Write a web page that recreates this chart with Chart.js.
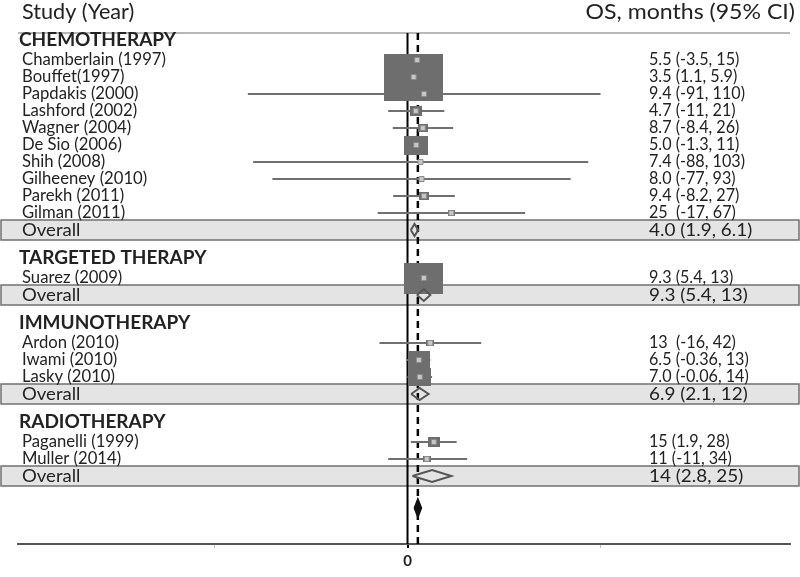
<!DOCTYPE html>
<html>
<head>
<meta charset="utf-8">
<title>Forest plot OS</title>
<script src="https://cdn.jsdelivr.net/npm/chart.js@4"></script>
<style>
  body { margin: 0; background: #fff; }
  canvas { display: block; }
</style>
</head>
<body>
<canvas id="forestChart" width="800" height="577"></canvas>
<script>
// dati
const groups = ['CHEMOTHERAPY', 'TARGETED THERAPY', 'IMMUNOTHERAPY', 'RADIOTHERAPY'];
const studies = ['Chamberlain (1997)', 'Bouffet(1997)', 'Papdakis (2000)', 'Lashford (2002)', 'Wagner (2004)',
  'De Sio (2006)', 'Shih (2008)', 'Gilheeney (2010)', 'Parekh (2011)', 'Gilman (2011)',
  'Suarez (2009)', 'Ardon (2010)', 'Iwami (2010)', 'Lasky (2010)', 'Paganelli (1999)', 'Muller (2014)'];
const studyGroup = [0, 0, 0, 0, 0, 0, 0, 0, 0, 0, 1, 2, 2, 2, 3, 3];
const estimates = [5.5, 3.5, 9.4, 4.7, 8.7, 5.0, 7.4, 8.0, 9.4, 25, 9.3, 13, 6.5, 7.0, 15, 11];
const lower = [-3.5, 1.1, -91, -11, -8.4, -1.3, -88, -77, -8.2, -17, 5.4, -16, -0.36, -0.06, 1.9, -11];
const upper = [15, 5.9, 110, 21, 26, 11, 103, 93, 27, 67, 13, 42, 13, 14, 28, 34];
const weights = [3, 47, 0.1, 2, 1.4, 7.8, 0.1, 0.1, 1.4, 0.7, 20.5, 0.9, 6.5, 7.2, 2, 0.9];
const studyLabels = ['5.5 (-3.5, 15)', '3.5 (1.1, 5.9)', '9.4 (-91, 110)', '4.7 (-11, 21)', '8.7 (-8.4, 26)',
  '5.0 (-1.3, 11)', '7.4 (-88, 103)', '8.0 (-77, 93)', '9.4 (-8.2, 27)', '25  (-17, 67)',
  '9.3 (5.4, 13)', '13  (-16, 42)', '6.5 (-0.36, 13)', '7.0 (-0.06, 14)', '15 (1.9, 28)', '11 (-11, 34)'];
const groupEst = [4.0, 9.3, 6.9, 14];
const groupLower = [1.9, 5.4, 2.1, 2.8];
const groupUpper = [6.1, 13, 12, 25];
const groupLabels = ['4.0 (1.9, 6.1)', '9.3 (5.4, 13)', '6.9 (2.1, 12)', '14 (2.8, 25)'];
const pooledEst = 5.9;
const pooledLower = 4.0;
const pooledUpper = 7.8;
const xTicks = [-110, 0, 110];

// layout delle righe (unita' verticali = pixel dall'alto dell'area)
const TOP = 6, HEAD_GAP = 21, ROW_GAP = 17, GROUP_GAP = 27, POOLED_GAP = 32;
const headerY = [], studyY = [], overallY = [];
let cursor = TOP;
groups.forEach((g, gi) => {
  headerY.push(cursor);
  cursor += HEAD_GAP;
  studyGroup.forEach((sg, i) => {
    if (sg === gi) { studyY[i] = cursor; cursor += ROW_GAP; }
  });
  overallY.push(cursor);
  cursor += GROUP_GAP;
});
const pooledY = overallY[overallY.length - 1] + POOLED_GAP;

const GAP = { x: null, y: null };
const DIAMOND_H = 6;
const BOX_K = 8.6;

function makeBox(w) {
  const c = document.createElement('canvas');
  c.width = Math.max(3, Math.round(BOX_K * Math.sqrt(w)));
  c.height = Math.max(3, Math.round(c.width * 0.8));
  const g = c.getContext('2d');
  g.fillStyle = '#6e6e6e';
  g.fillRect(0, 0, c.width, c.height);
  return c;
}

const ciPoints = [];
studies.forEach((s, i) => {
  ciPoints.push({ x: lower[i], y: studyY[i] }, { x: upper[i], y: studyY[i] }, GAP);
});

const diamondPoints = [];
groups.forEach((g, gi) => {
  const y = overallY[gi];
  diamondPoints.push(
    { x: groupLower[gi], y: y }, { x: groupEst[gi], y: y - DIAMOND_H },
    { x: groupUpper[gi], y: y }, { x: groupEst[gi], y: y + DIAMOND_H },
    { x: groupLower[gi], y: y }, GAP);
});

const pooledPoints = [
  { x: pooledLower, y: pooledY }, { x: pooledEst, y: pooledY - 8.5 },
  { x: pooledUpper, y: pooledY }, { x: pooledEst, y: pooledY + 8.5 },
  { x: pooledLower, y: pooledY }
];

const studyPoints = studies.map((s, i) => ({ x: estimates[i], y: studyY[i] }));

// testo schiacciato/allargato in orizzontale
function drawText(ctx, text, x, y, sx, align) {
  ctx.save();
  ctx.translate(x, y);
  ctx.scale(sx, 1);
  ctx.textAlign = align || 'left';
  ctx.fillText(text, 0, 0);
  ctx.restore();
}

const forestText = {
  id: 'forestText',
  beforeDatasetsDraw(chart) {
    const ctx = chart.ctx;
    const yScale = chart.scales.y;
    const area = chart.chartArea;
    ctx.save();
    // bande "Overall"
    overallY.forEach(v => {
      const y = Math.round(yScale.getPixelForValue(v));
      ctx.fillStyle = '#e4e4e4';
      ctx.fillRect(1, y - 10, 798, 20);
      ctx.strokeStyle = '#707070';
      ctx.lineWidth = 1.5;
      ctx.strokeRect(1, y - 10, 798, 20);
    });
    // linea intestazione
    ctx.strokeStyle = '#a0a0a0';
    ctx.lineWidth = 1.5;
    ctx.beginPath();
    ctx.moveTo(area.left, area.top);
    ctx.lineTo(area.right, area.top);
    ctx.stroke();
    ctx.restore();
  },
  afterDraw(chart) {
    const ctx = chart.ctx;
    const yScale = chart.scales.y;
    ctx.save();
    ctx.fillStyle = '#222';
    ctx.textBaseline = 'middle';
    ctx.font = '21px Lato';
    drawText(ctx, 'Study (Year)', 22, 12, 1.03);
    drawText(ctx, 'OS, months (95% CI)', 795, 12, 1.1, 'right');
    ctx.font = 'bold 19px Lato';
    groups.forEach((g, gi) => drawText(ctx, g, 19, yScale.getPixelForValue(headerY[gi]) + 1, 1));
    ctx.font = '17px Lato';
    studies.forEach((s, i) => {
      const y = yScale.getPixelForValue(studyY[i]);
      drawText(ctx, s, 22, y, 0.98);
      drawText(ctx, studyLabels[i], 649, y, 0.95);
    });
    ctx.font = '18px Lato';
    groups.forEach((g, gi) => {
      const y = yScale.getPixelForValue(overallY[gi]);
      drawText(ctx, 'Overall', 22, y, 1.03);
      drawText(ctx, groupLabels[gi], 649, y, 1.05);
    });
    ctx.restore();
  }
};

new Chart(document.getElementById('forestChart'), {
  type: 'scatter',
  data: {
    datasets: [
      { data: pooledPoints, showLine: true, borderColor: '#111', backgroundColor: '#111',
        borderWidth: 2, fill: 'shape', pointRadius: 0 },
      { data: diamondPoints, showLine: true, borderColor: '#555', borderWidth: 2,
        pointRadius: 0, spanGaps: false },
      { data: studyPoints, showLine: false, pointStyle: 'rect', pointRadius: 3.5,
        backgroundColor: '#c8c8c8', borderColor: '#8c8c8c', borderWidth: 1 },
      { data: studyPoints, showLine: false, pointStyle: weights.map(makeBox), pointRadius: 3 },
      { data: ciPoints, showLine: true, borderColor: '#707070', borderWidth: 2,
        pointRadius: 0, spanGaps: false },
      { data: [{ x: 0, y: 0 }, { x: 0, y: 511 }], showLine: true, borderColor: '#000',
        borderWidth: 2, pointRadius: 0 },
      { data: [{ x: pooledEst, y: 0 }, { x: pooledEst, y: 511 }], showLine: true, borderColor: '#000',
        borderWidth: 2.5, borderDash: [7, 5], pointRadius: 0 }
    ]
  },
  options: {
    responsive: false,
    animation: false,
    devicePixelRatio: 1,
    layout: { padding: { left: 18, right: 10, top: 33, bottom: 0 } },
    plugins: { legend: { display: false }, tooltip: { enabled: false } },
    scales: {
      x: {
        type: 'linear', min: -222, max: 218,
        afterBuildTicks: scale => { scale.ticks = xTicks.map(v => ({ value: v })); },
        afterFit: scale => { scale.height = 33; },
        ticks: { callback: v => (v === 0 ? '0' : ''), color: '#222', padding: 4,
                 font: { family: 'Lato', size: 15, weight: 'bold' }, maxRotation: 0 },
        grid: { drawOnChartArea: false, drawTicks: true, tickLength: 4,
                color: c => (c.tick && c.tick.value === 0 ? '#000' : 'rgba(0,0,0,0.25)'),
                lineWidth: c => (c.tick && c.tick.value === 0 ? 2 : 1) },
        border: { display: true, color: '#555', width: 2 }
      },
      y: { type: 'linear', reverse: true, min: 0, max: 511, display: false }
    }
  },
  plugins: [forestText]
});
</script>
</body>
</html>
